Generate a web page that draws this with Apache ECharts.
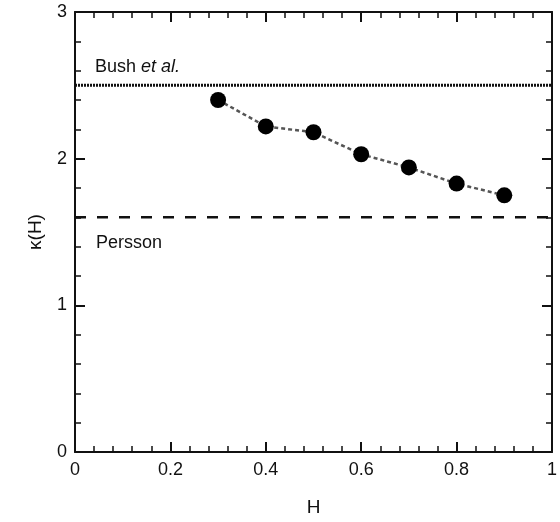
<!DOCTYPE html>
<html>
<head>
<meta charset="utf-8">
<script src="https://cdn.jsdelivr.net/npm/echarts@6/dist/echarts.min.js"></script>
<style>html,body{margin:0;padding:0;background:#fff;}#c{width:560px;height:522px;}</style>
</head>
<body>
<div id="c"></div>
<script>
const hValues = [0.3, 0.4, 0.5, 0.6, 0.7, 0.8, 0.9];
const kappaValues = [2.40, 2.22, 2.18, 2.03, 1.94, 1.83, 1.75];
const bushLevel = 2.5;
const perssonLevel = 1.6;
const xRange = [0, 1];
const yRange = [0, 3];
const xTickLabels = ['0', '0.2', '0.4', '0.6', '0.8', '1'];
const yTickLabels = ['0', '1', '2', '3'];

const font = 'Liberation Sans, Arial, Helvetica, sans-serif';
const chart = echarts.init(document.getElementById('c'), null, {renderer: 'canvas'});

const baseAxis = {
  axisLine: {show: true, onZero: false, lineStyle: {color: '#111', width: 2}},
  axisTick: {show: true, inside: true, length: 10, lineStyle: {color: '#111', width: 2}},
  minorTick: {show: true, splitNumber: 5, length: 6, lineStyle: {color: '#111', width: 1.5}},
  splitLine: {show: false}
};

chart.setOption({
  animation: false,
  backgroundColor: '#fff',
  grid: {left: 75, right: 4, top: 12, bottom: 65, containLabel: false},
  xAxis: [
    Object.assign({}, baseAxis, {
      type: 'value', min: xRange[0], max: xRange[1], interval: 0.2, position: 'bottom',
      name: 'H', nameLocation: 'middle', nameGap: 46,
      nameTextStyle: {fontFamily: font, fontSize: 19, color: '#111'},
      axisLabel: {margin: 9, fontFamily: font, fontSize: 18, color: '#111',
        formatter: (v) => xTickLabels[Math.round(v / 0.2)] }
    }),
    Object.assign({}, baseAxis, {
      type: 'value', min: xRange[0], max: xRange[1], interval: 0.2, position: 'top',
      axisLabel: {show: false}
    })
  ],
  yAxis: [
    Object.assign({}, baseAxis, {
      type: 'value', min: yRange[0], max: yRange[1], interval: 1, position: 'left',
      name: 'κ(H)', nameLocation: 'middle', nameGap: 30, nameRotate: 90,
      nameTextStyle: {fontFamily: font, fontSize: 19, color: '#111'},
      axisLabel: {margin: 8, fontFamily: font, fontSize: 18, color: '#111',
        formatter: (v) => yTickLabels[Math.round(v)] }
    }),
    Object.assign({}, baseAxis, {
      type: 'value', min: yRange[0], max: yRange[1], interval: 1, position: 'right',
      axisLabel: {show: false}
    })
  ],
  series: [
    {
      type: 'line', data: [[xRange[0], bushLevel], [xRange[1], bushLevel]],
      symbol: 'none', lineStyle: {color: '#111', width: 3, type: [2, 1]}, z: 2
    },
    {
      type: 'line', data: [[xRange[0], perssonLevel], [xRange[1], perssonLevel]],
      symbol: 'none', lineStyle: {color: '#111', width: 2.5, type: [11, 11]}, z: 2
    },
    {
      type: 'line', data: hValues.map((h, i) => [h, kappaValues[i]]),
      symbol: 'circle', symbolSize: 16,
      itemStyle: {color: '#000'},
      lineStyle: {color: '#555', width: 2.5, type: [4, 3]}, z: 3
    }
  ],
  graphic: [
    {type: 'text', left: 95, top: 58, style: {
      text: 'Bush {i|et al.}', fontFamily: font, fontSize: 18, fill: '#111',
      rich: {i: {fontStyle: 'italic', fontFamily: font, fontSize: 18, fill: '#111'}}
    }},
    {type: 'text', left: 96, top: 234, style: {
      text: 'Persson', fontFamily: font, fontSize: 18, fill: '#111'
    }}
  ]
});
</script>
</body>
</html>
